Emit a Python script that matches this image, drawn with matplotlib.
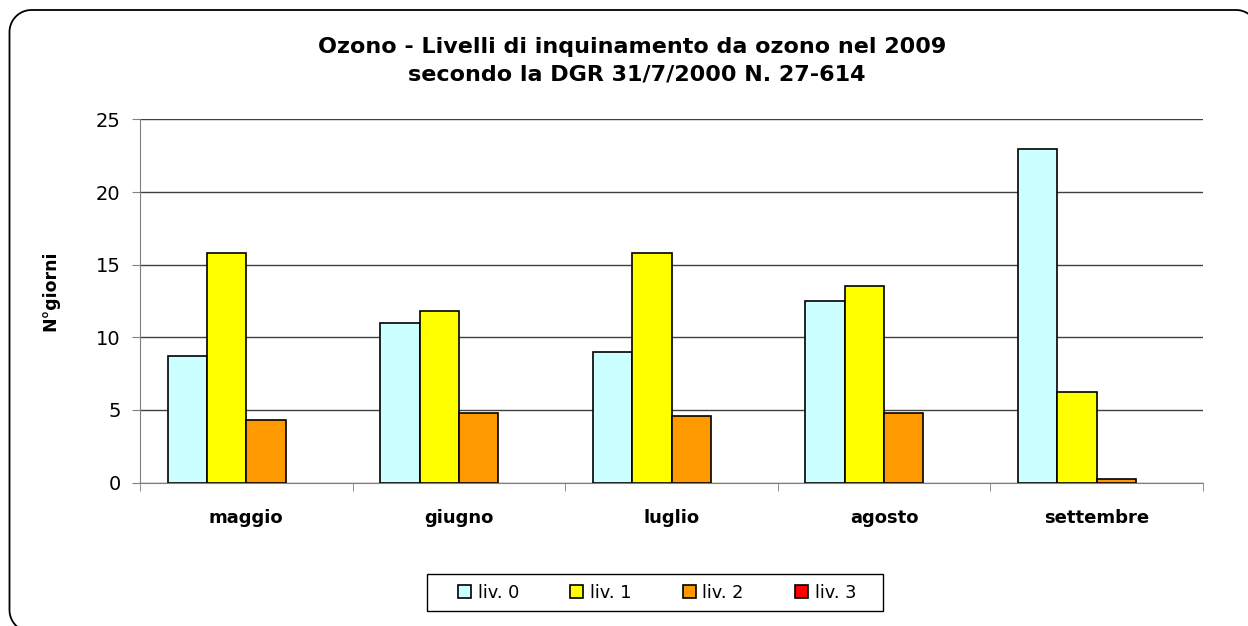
import matplotlib
matplotlib.use("Agg")
import matplotlib.pyplot as plt
import numpy as np
from matplotlib.patches import Rectangle, Patch, PathPatch
from matplotlib.path import Path
from matplotlib.transforms import IdentityTransform

plt.rcParams['font.family'] = ['DejaVu Sans']

categories = ["maggio", "giugno", "luglio", "agosto", "settembre"]
series_names = ["liv. 0", "liv. 1", "liv. 2", "liv. 3"]
liv0 = [8.7, 11.0, 9.0, 12.5, 23.0]
liv1 = [15.8, 11.8, 15.8, 13.5, 6.2]
liv2 = [4.3, 4.8, 4.6, 4.8, 0.25]
liv3 = [0, 0, 0, 0, 0]
colors = ["#CCFFFF", "#FFFF00", "#FF9900", "#FF0000"]
yticks = [0, 5, 10, 15, 20, 25]

W, H = 1248, 626
fig = plt.figure(figsize=(W / 100, H / 100), dpi=100)


def rounded_rect(x0, y0, x1, y1, r, n=24):
    """Closed polyline of a rounded rectangle in pixel (display) coords."""
    pts = []
    corners = [(x1 - r, y1 - r, 0), (x0 + r, y1 - r, 90),
               (x0 + r, y0 + r, 180), (x1 - r, y0 + r, 270)]
    for cx, cy, a0 in corners:
        t = np.radians(np.linspace(a0, a0 + 90, n))
        pts.extend(zip(cx + r * np.cos(t), cy + r * np.sin(t)))
    pts.append(pts[0])
    return Path(pts)


# rounded outer border (extends past right and bottom edges), display pixels
border = PathPatch(rounded_rect(9.5, H - 632, 1258, H - 10, 22),
                   transform=IdentityTransform(), facecolor="none",
                   edgecolor="black", linewidth=1.3, zorder=-1)
fig.patches.append(border)

ax = fig.add_axes([140 / W, 1 - 482.5 / H, (1203 - 140) / W, (482.5 - 119.5) / H])
ax.set_facecolor("none")
x = np.arange(len(categories))
w = 0.185
all_series = [liv0, liv1, liv2, liv3]
for i, (vals, c, name) in enumerate(zip(all_series, colors, series_names)):
    lws = [1.2 if v > 0 else 0 for v in vals]
    ax.bar(x + (i - 1.5) * w, vals, width=w, color=c, edgecolor="black",
           linewidth=lws, zorder=3)

ax.set_xlim(-0.5, len(categories) - 0.5)
ax.set_ylim(0, 25)
ax.set_yticks(yticks)
ax.set_yticklabels([str(t) for t in yticks], fontsize=14)
ax.yaxis.grid(True, color="#404040", linewidth=1, zorder=0)
ax.set_axisbelow(True)
ax.set_xticks(x)
ax.set_xticklabels(categories, fontsize=13, fontweight="bold")
ax.tick_params(axis="x", length=0, pad=19)
ax.set_xticks(np.arange(-0.5, len(categories), 1), minor=True)
ax.tick_params(axis="x", which="minor", length=6, color="#808080", direction="out")
ax.tick_params(axis="y", length=6, color="#808080", direction="out", pad=8)
for s in ["top", "right"]:
    ax.spines[s].set_visible(False)
ax.spines["left"].set_color("#808080")
ax.spines["bottom"].set_color("#808080")
ax.set_ylabel("N°giorni", fontsize=12.5, fontweight="bold", va="center")
ax.yaxis.set_label_coords((50.7 - 140) / 1063, (482.5 - 291) / 363)

fig.text(632 / W, 1 - 47 / H, "Ozono - Livelli di inquinamento da ozono nel 2009",
         ha="center", va="center", fontsize=16, fontweight="bold")
fig.text(637 / W, 1 - 75 / H, "secondo la DGR 31/7/2000 N. 27-614",
         ha="center", va="center", fontsize=16, fontweight="bold")

# legend frame
fig.patches.append(Rectangle((427 / W, 1 - 611 / H), (883 - 427) / W, (611 - 574) / H,
                             transform=fig.transFigure, facecolor="white",
                             edgecolor="black", linewidth=1, zorder=1))
handles = [Patch(facecolor=c, edgecolor="black", linewidth=1.2) for c in colors]
leg = fig.legend(handles, series_names, loc="center",
                 bbox_to_anchor=(657 / W, 1 - 592.5 / H), ncol=4,
                 fontsize=12.8, frameon=False,
                 handlelength=0.73, handleheight=0.73, columnspacing=2.87,
                 handletextpad=0.39, borderpad=0.3)
leg.set_zorder(2)

fig.savefig("out.png", dpi=100)
